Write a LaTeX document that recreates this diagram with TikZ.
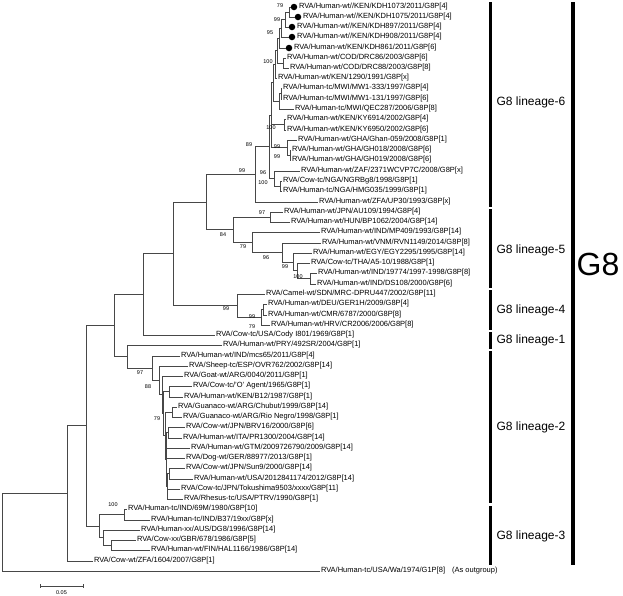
\documentclass[tikz,border=0pt]{standalone}
\usepackage{fontspec}
\setmainfont{Liberation Sans}
\begin{document}
\begin{tikzpicture}[x=1pt,y=-1pt,
  br/.style={line width=0.75pt, draw=black!72},
  leaf/.style={anchor=west, inner sep=0.8pt, font=\fontsize{7.5}{8}\selectfont},
  bs/.style={font=\fontsize{5.5}{6}\selectfont, inner sep=0pt},
  kdot/.style={circle, fill=black, inner sep=0pt, minimum size=6.5pt},
  linbar/.style={line width=3pt},
  lin/.style={font=\fontsize{12}{14}\selectfont, inner sep=0pt}]
\useasboundingbox (0,0) rectangle (623,595);
% internal nodes
\coordinate (K1) at (289,12);
\coordinate (K2) at (285,19.5);
\coordinate (K3) at (281,28.25);
\coordinate (K4) at (279,38.1);
\coordinate (COD) at (283,63);
\coordinate (K5) at (277,50.6);
\coordinate (K6) at (275,64.3);
\coordinate (M1) at (281,93.5);
\coordinate (M2) at (279,101.25);
\coordinate (K7) at (273,82.8);
\coordinate (KY) at (284,124.5);
\coordinate (G1) at (290,155);
\coordinate (G2) at (287,147.5);
\coordinate (AB) at (271,115.1);
\coordinate (NGA) at (280,186);
\coordinate (AA) at (274,178.5);
\coordinate (Z) at (269,146.8);
\coordinate (R) at (255,174.4);
\coordinate (U) at (270,217);
\coordinate (Y) at (310,278.5);
\coordinate (X) at (297,270.75);
\coordinate (W) at (293,261.9);
\coordinate (V) at (282,252.4);
\coordinate (Q) at (252,242.2);
\coordinate (P) at (233,229.6);
\coordinate (O) at (206,202);
\coordinate (T1) at (263,309.5);
\coordinate (T) at (261,317.25);
\coordinate (S) at (237,305.6);
\coordinate (N) at (173,253.8);
\coordinate (M) at (143,294.4);
\coordinate (I1) at (169,391.5);
\coordinate (GU) at (172,412);
\coordinate (BR) at (168,432.5);
\coordinate (SU) at (169,473.5);
\coordinate (Ln) at (167,486.25);
\coordinate (Kn) at (166,459.4);
\coordinate (J) at (165,435.7);
\coordinate (H) at (163,413.6);
\coordinate (G) at (162,394.8);
\coordinate (F) at (159,380.4);
\coordinate (E) at (152,368.2);
\coordinate (D) at (127,356.6);
\coordinate (C) at (114,325.5);
\coordinate (L3b) at (124,514.5);
\coordinate (L3d) at (111,545);
\coordinate (L3c) at (103,537.5);
\coordinate (L3) at (99,526);
\coordinate (B) at (86,425.75);
\coordinate (A) at (67,493.4);
\coordinate (root) at (2,532);
% dots
\node[kdot] (d1) at (294,7) {};
\node[kdot] (d2) at (298,17) {};
\node[kdot] (d3) at (292,27) {};
\node[kdot] (d4) at (292,37) {};
\node[kdot] (d5) at (289,48) {};
% leaves
\node[leaf] (l1) at (298,7) {RVA/Human-wt//KEN/KDH1073/2011/G8P[4]};
\node[leaf] (l2) at (302,17) {RVA/Human-wt//KEN/KDH1075/2011/G8P[4]};
\node[leaf] (l3) at (296,27) {RVA/Human-wt//KEN/KDH897/2011/G8P[4]};
\node[leaf] (l4) at (296,37) {RVA/Human-wt//KEN/KDH908/2011/G8P[4]};
\node[leaf] (l5) at (293,48) {RVA/Human-wt/KEN/KDH861/2011/G8P[6]};
\node[leaf] (l6) at (286,58) {RVA/Human-wt/COD/DRC86/2003/G8P[6]};
\node[leaf] (l7) at (289,68) {RVA/Human-wt/COD/DRC88/2003/G8P[8]};
\node[leaf] (l8) at (277,78) {RVA/Human-wt/KEN/1290/1991/G8P[x]};
\node[leaf] (l9) at (282,88) {RVA/Human-tc/MWI/MW1-333/1997/G8P[4]};
\node[leaf] (l10) at (282,99) {RVA/Human-tc/MWI/MW1-131/1997/G8P[6]};
\node[leaf] (l11) at (294,109) {RVA/Human-tc/MWI/QEC287/2006/G8P[8]};
\node[leaf] (l12) at (286,119) {RVA/Human-wt/KEN/KY6914/2002/G8P[4]};
\node[leaf] (l13) at (286,130) {RVA/Human-wt/KEN/KY6950/2002/G8P[6]};
\node[leaf] (l14) at (297,140) {RVA/Human-wt/GHA/Ghan-059/2008/G8P[1]};
\node[leaf] (l15) at (291,150) {RVA/Human-wt/GHA/GH018/2008/G8P[6]};
\node[leaf] (l16) at (291,160) {RVA/Human-wt/GHA/GH019/2008/G8P[6]};
\node[leaf] (l17) at (300,171) {RVA/Human-wt/ZAF/2371WCVP7C/2008/G8P[x]};
\node[leaf] (l18) at (282,181) {RVA/Cow-tc/NGA/NGRBg8/1998/G8P[1]};
\node[leaf] (l19) at (282,191) {RVA/Human-tc/NGA/HMG035/1999/G8P[1]};
\node[leaf] (l20) at (318,202) {RVA/Human-wt/ZFA/UP30/1993/G8P[x]};
\node[leaf] (l21) at (283,212) {RVA/Human-wt/JPN/AU109/1994/G8P[4]};
\node[leaf] (l22) at (290,222) {RVA/Human-wt/HUN/BP1062/2004/G8P[14]};
\node[leaf] (l23) at (320,232) {RVA/Human-wt/IND/MP409/1993/G8P[14]};
\node[leaf] (l24) at (321,243) {RVA/Human-wt/VNM/RVN1149/2014/G8P[8]};
\node[leaf] (l25) at (312,253) {RVA/Human-wt/EGY/EGY2295/1995/G8P[14]};
\node[leaf] (l26) at (310,263) {RVA/Cow-tc/THA/A5-10/1988/G8P[1]};
\node[leaf] (l27) at (317,273) {RVA/Human-wt/IND/19774/1997-1998/G8P[8]};
\node[leaf] (l28) at (316,284) {RVA/Human-wt/IND/DS108/2000/G8P[6]};
\node[leaf] (l29) at (265,294) {RVA/Camel-wt/SDN/MRC-DPRU447/2002/G8P[11]};
\node[leaf] (l30) at (267,304) {RVA/Human-wt/DEU/GER1H/2009/G8P[4]};
\node[leaf] (l31) at (267,315) {RVA/Human-wt/CMR/6787/2000/G8P[8]};
\node[leaf] (l32) at (270,325) {RVA/Human-wt/HRV/CR2006/2006/G8P[8]};
\node[leaf] (l33) at (215,335) {RVA/Cow-tc/USA/Cody I801/1969/G8P[1]};
\node[leaf] (l34) at (222,345) {RVA/Human-wt/PRY/492SR/2004/G8P[1]};
\node[leaf] (l35) at (180,356) {RVA/Human-wt/IND/mcs65/2011/G8P[4]};
\node[leaf] (l36) at (188,366) {RVA/Sheep-tc/ESP/OVR762/2002/G8P[14]};
\node[leaf] (l37) at (183,376) {RVA/Goat-wt/ARG/0040/2011/G8P[1]};
\node[leaf] (l38) at (192,386) {RVA/Cow-tc/'O' Agent/1965/G8P[1]};
\node[leaf] (l39) at (183,397) {RVA/Human-wt/KEN/B12/1987/G8P[1]};
\node[leaf] (l40) at (177,407) {RVA/Guanaco-wt/ARG/Chubut/1999/G8P[14]};
\node[leaf] (l41) at (182,417) {RVA/Guanaco-wt/ARG/Rio Negro/1998/G8P[1]};
\node[leaf] (l42) at (185,427) {RVA/Cow-wt/JPN/BRV16/2000/G8P[6]};
\node[leaf] (l43) at (182,438) {RVA/Human-wt/ITA/PR1300/2004/G8P[14]};
\node[leaf] (l44) at (190,448) {RVA/Human-wt/GTM/2009726790/2009/G8P[14]};
\node[leaf] (l45) at (185,458) {RVA/Dog-wt/GER/88977/2013/G8P[1]};
\node[leaf] (l46) at (185,468) {RVA/Cow-wt/JPN/Sun9/2000/G8P[14]};
\node[leaf] (l47) at (193,479) {RVA/Human-wt/USA/2012841174/2012/G8P[14]};
\node[leaf] (l48) at (180,489) {RVA/Cow-tc/JPN/Tokushima9503/xxxx/G8P[11]};
\node[leaf] (l49) at (183,499) {RVA/Rhesus-tc/USA/PTRV/1990/G8P[1]};
\node[leaf] (l50) at (127,509) {RVA/Human-tc/IND/69M/1980/G8P[10]};
\node[leaf] (l51) at (150,520) {RVA/Human-tc/IND/B37/19xx/G8P[x]};
\node[leaf] (l52) at (140,530) {RVA/Human-xx/AUS/DG8/1996/G8P[14]};
\node[leaf] (l53) at (136,540) {RVA/Cow-xx/GBR/678/1986/G8P[5]};
\node[leaf] (l54) at (150,550) {RVA/Human-wt/FIN/HAL1166/1986/G8P[14]};
\node[leaf] (l55) at (93,561) {RVA/Cow-wt/ZFA/1604/2007/G8P[1]};
\node[leaf] (l56) at (320,571) {RVA/Human-tc/USA/Wa/1974/G1P[8]};
\node[leaf] (og) at ([xshift=5pt]l56.east) {(As outgroup)};
% branches between internal nodes
\foreach \p/\c in {K2/K1,K3/K2,K4/K3,K5/K4,K5/COD,K6/K5,M2/M1,K7/K6,K7/M2,G2/G1,
  AB/K7,AB/KY,AB/G2,AA/NGA,Z/AB,Z/AA,R/Z,X/Y,W/X,V/W,Q/V,P/U,P/Q,O/R,O/P,
  T/T1,S/T,N/O,N/S,M/N,Ln/SU,Kn/BR,Kn/Ln,J/GU,J/Kn,H/I1,H/J,G/H,F/G,E/F,D/E,
  C/M,C/D,L3c/L3d,L3/L3b,L3/L3c,B/C,B/L3,A/B,root/A}
  \draw[br] (\p) |- (\c);
% branches to leaves
\foreach \p/\c in {K1/d1,K1/d2,K2/d3,K3/d4,K4/d5,COD/l6,COD/l7,K6/l8,M1/l9,M1/l10,
  M2/l11,KY/l12,KY/l13,G2/l14,G1/l15,G1/l16,AA/l17,NGA/l18,NGA/l19,R/l20,U/l21,
  U/l22,Q/l23,V/l24,W/l25,X/l26,Y/l27,Y/l28,S/l29,T1/l30,T1/l31,T/l32,M/l33,D/l34,
  E/l35,F/l36,G/l37,I1/l38,I1/l39,GU/l40,GU/l41,BR/l42,BR/l43,Kn/l44,Kn/l45,SU/l46,
  SU/l47,Ln/l48,Ln/l49,L3b/l50,L3b/l51,L3c/l52,L3d/l53,L3d/l54,A/l55,root/l56}
  \draw[br] (\p) |- (\c.west);
% bootstrap values
\foreach \v/\xx/\yy [count=\i] in {79/280/6,99/277/20,95/270/33,100/268/62,100/271/128,
  89/249/145,99/277/147,99/277/157,99/242/171,96/263/173,100/263/183,97/262/213,
  84/223/235,79/243/247,96/266/258,99/285/267,100/298/277,99/226/309,99/252/317,
  79/252/327,97/140/373,88/148/387,79/157/419,100/113/505}
  \node[bs] (bs\i) at (\xx,\yy) {\v};
% lineage bars
\draw[linbar] (490,2) -- (490,207);
\draw[linbar] (490,209) -- (490,288);
\draw[linbar] (490,290) -- (490,330);
\draw[linbar] (490,332) -- (490,349);
\draw[linbar] (490,351) -- (490,503);
\draw[linbar] (490,506) -- (490,565);
\draw[line width=3.5pt] (573,2) -- (573,565);
\node[lin] (g6) at (531,102) {G8 lineage-6};
\node[lin] (g5) at (531,250) {G8 lineage-5};
\node[lin] (g4) at (531,310) {G8 lineage-4};
\node[lin] (g1) at (531,340) {G8 lineage-1};
\node[lin] (g2) at (531,427) {G8 lineage-2};
\node[lin] (g3) at (531,536) {G8 lineage-3};
\node[font=\fontsize{32}{36}\selectfont, inner sep=0pt] (g8) at (598,264) {G8};
% scale bar
\draw[br] (40,586) -- (83,586);
\draw[br] (40,584) -- (40,588);
\draw[br] (83,584) -- (83,588);
\node[bs] (sc) at (61.5,593) {0.05};
\end{tikzpicture}
\end{document}
